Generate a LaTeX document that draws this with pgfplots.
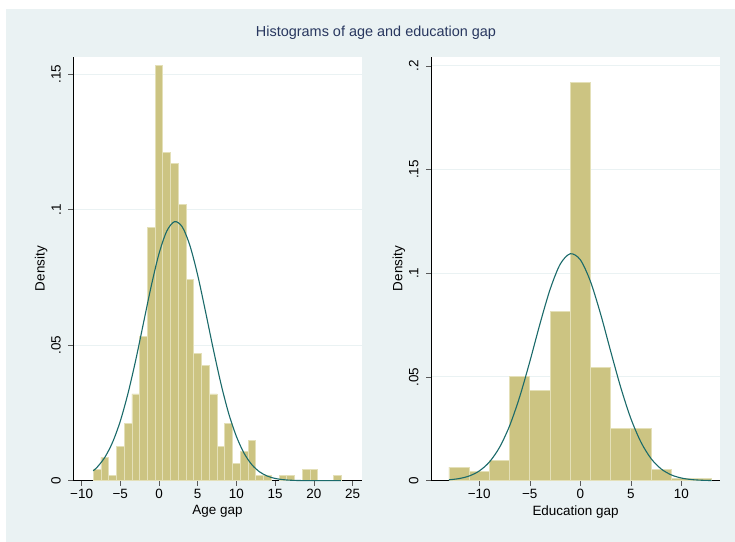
\documentclass[border=0pt]{standalone}
\usepackage{fontspec}
\setmainfont{Liberation Sans}
\usepackage{pgfplots}
\pgfplotsset{compat=1.18}

\definecolor{stbg}{RGB}{234,242,243}
\definecolor{stgrid}{RGB}{234,242,243}
\definecolor{stbar}{RGB}{204,196,130}
\definecolor{stbarline}{RGB}{228,224,184}
\definecolor{stcurve}{RGB}{26,106,106}
\definecolor{sttitle}{RGB}{40,55,95}
\definecolor{sttick}{RGB}{90,90,90}

\pgfplotsset{
  stata/.style={
    scale only axis,
    axis background/.style={fill=white},
    axis x line*=bottom,
    axis y line*=left,
    axis line style={-, black, line width=0.8bp},
    tick align=outside,
    major tick length=5bp,
    tick style={sttick, line width=0.6bp},
    ymajorgrids,
    grid style={stgrid, line width=1bp},
    ticklabel style={font=\fontsize{13.5}{15}\selectfont},
    yticklabel style={rotate=90, anchor=south},
    yticklabel shift=4bp,
    ylabel shift=-3bp,
    label style={font=\fontsize{13.5}{15}\selectfont},
    clip=false,
  },
  histbar/.style={ybar, bar shift=0pt, fill=stbar, draw=stbarline, line width=0.8bp},
  normcurve/.style={stcurve, line width=1.1bp, smooth, no markers},
}

\begin{document}
\begin{tikzpicture}[x=1bp,y=1bp]
\fill[white] (0,0) rectangle (735,542);
\fill[stbg] (6,0) rectangle (735,533);
\node[text=sttitle, font=\fontsize{14.5}{17}\selectfont, anchor=base] at (376,505) {Histograms of age and education gap};

% Age gap
\begin{axis}[stata,
  at={(73.3bp,61.3bp)}, anchor=south west,
  width=288.4bp, height=424bp,
  xmin=-11.07, xmax=26.18, ymin=0, ymax=0.1565,
  xtick={-10,-5,0,5,10,15,20,25},
  xticklabels={−10,−5,0,5,10,15,20,25},
  ytick={0,0.05,0.1,0.15},
  yticklabels={0,.05,.1,.15},
  xlabel={Age gap}, ylabel={Density},
]
\addplot[histbar, bar width=1] coordinates {
  (-8,0.0042) (-7,0.0086) (-6,0.0021) (-5,0.0128) (-4,0.0212) (-3,0.0320)
  (-2,0.0532) (-1,0.0936) (0,0.1533) (1,0.1213) (2,0.1170) (3,0.1021)
  (4,0.0744) (5,0.0468) (6,0.0426) (7,0.0320) (8,0.0128) (9,0.0212)
  (10,0.0064) (11,0.0107) (12,0.0149) (13,0.0021) (14,0.0021)
  (16,0.0021) (17,0.0021) (19,0.0042) (20,0.0042) (23,0.0021)
};
\addplot[normcurve] coordinates {
  (-8.5,0.00367) (-8,0.00495) (-7,0.00862) (-6,0.01417) (-5,0.0220)
  (-4,0.0323) (-3,0.0446) (-2,0.0583) (-1,0.0719) (0,0.0838) (1,0.0921)
  (2,0.0956) (3,0.0937) (4,0.0867) (5,0.0758) (6,0.0625) (7,0.0487)
  (8,0.0358) (9,0.0248) (10,0.0163) (11,0.01007) (12,0.00588) (13,0.00324)
  (14,0.00169) (15,0.00083) (16,0.000385) (17,0.000169) (18,0.00007)
  (19,0.00003) (20,0.00001) (21,0) (22,0) (23.5,0)
};
\end{axis}

% Education gap
\begin{axis}[stata,
  at={(431bp,61.3bp)}, anchor=south west,
  width=289bp, height=424bp,
  xmin=-14.78, xmax=13.83, ymin=0, ymax=0.2044,
  xtick={-10,-5,0,5,10},
  xticklabels={−10,−5,0,5,10},
  ytick={0,0.05,0.1,0.15,0.2},
  yticklabels={0,.05,.1,.15,.2},
  xlabel={Education gap}, ylabel={Density},
]
\addplot[histbar, bar width=2] coordinates {
  (-12,0.0066) (-10,0.0043) (-8,0.0098) (-6,0.0502) (-4,0.0437) (-2,0.0818)
  (0,0.1918) (2,0.0545) (4,0.0251) (6,0.0251) (8,0.0055) (10,0.0011) (12,0.0011)
};
\addplot[normcurve] coordinates {
  (-13,0.000425) (-12,0.00102) (-11,0.00227) (-10,0.00470) (-9,0.00901)
  (-8,0.01604) (-7,0.02646) (-6,0.04046) (-5,0.0574) (-4,0.0755) (-3,0.0921)
  (-2,0.1043) (-1,0.1094) (0,0.1065) (1,0.0961) (2,0.0805) (3,0.0625)
  (4,0.0450) (5,0.0300) (6,0.0186) (7,0.01068) (8,0.00568) (9,0.00281)
  (10,0.00129) (11,0.00055) (12,0.00022) (13,0.00008)
};
\end{axis}
\end{tikzpicture}
\end{document}
